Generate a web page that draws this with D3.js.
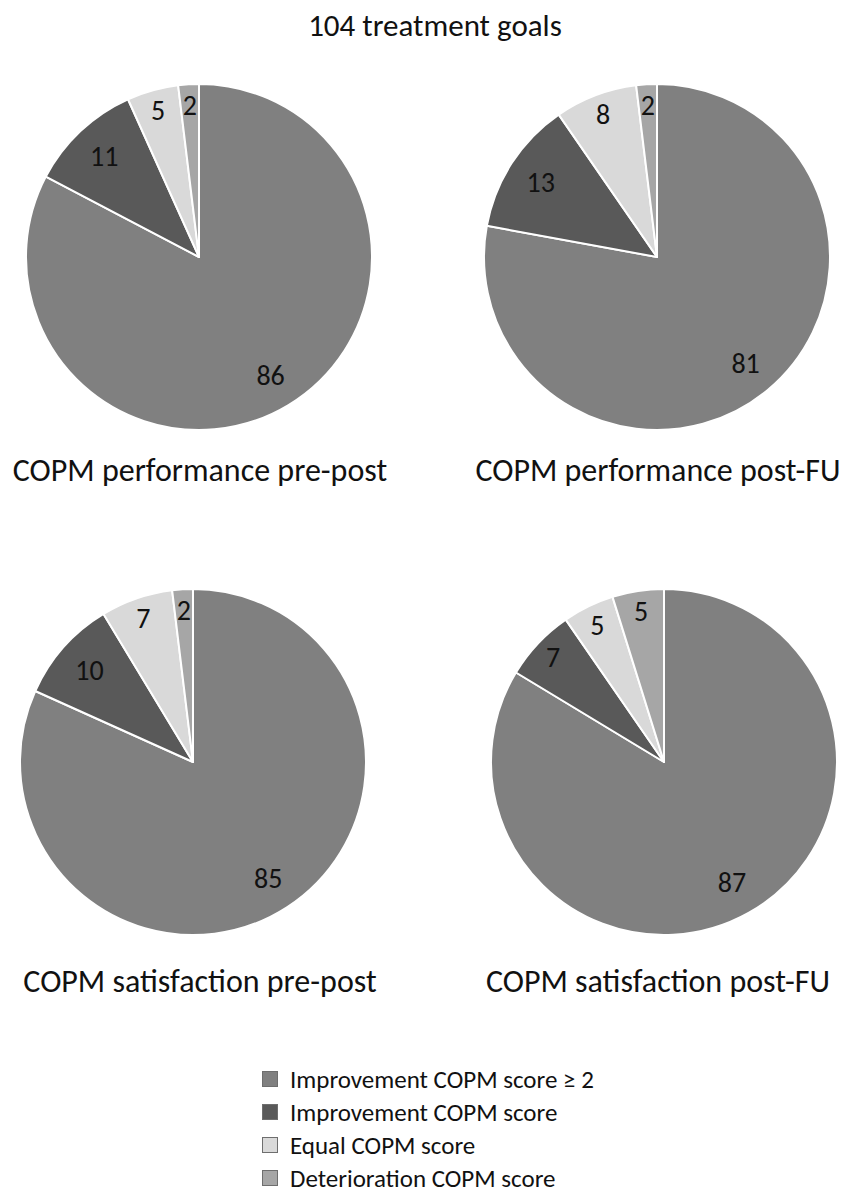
<!DOCTYPE html>
<html>
<head>
<meta charset="utf-8">
<script src="https://cdn.jsdelivr.net/npm/d3@7"></script>
<style>
  body { margin: 0; background: #fff; }
  text { font-family: Carlito, "Open Sans", "Noto Sans", sans-serif; fill: #111; }
</style>
</head>
<body>
<svg id="chart"></svg>
<script>
const width = 843, height = 1199;

// categories, in the order they go round the pie (clockwise from 12 o'clock)
const categories = ['Improvement COPM score \u2265 2', 'Improvement COPM score', 'Equal COPM score', 'Deterioration COPM score'];
const colors = ['#808080', '#595959', '#d9d9d9', '#a6a6a6'];

const chartTitles = ['COPM performance pre-post', 'COPM performance post-FU', 'COPM satisfaction pre-post', 'COPM satisfaction post-FU'];
const perfPrePost = [86, 11, 5, 2];
const perfPostFU = [81, 13, 8, 2];
const satPrePost = [85, 10, 7, 2];
const satPostFU = [87, 7, 5, 5];
const seriesList = [perfPrePost, perfPostFU, satPrePost, satPostFU];

const svg = d3.select("#chart")
    .attr("width", width)
    .attr("height", height);

svg.append("text")
    .attr("x", 435)
    .attr("y", 36)
    .attr("text-anchor", "middle")
    .style("font-size", "31px")
    .text("104 treatment goals");

const radius = 173;
// pie centres, one per chart
const centres = [[199, 257], [657, 257], [193, 762], [664, 762]];
const titleX = [200, 658, 200, 658];
const titleY = [481, 481, 992, 992];

const color = d3.scaleOrdinal().domain(d3.range(categories.length)).range(colors);

const pie = d3.pie().sort(null).value(d => d);
const arc = d3.arc().innerRadius(0).outerRadius(radius);

seriesList.forEach(function (values, i) {
    const g = svg.append("g")
        .attr("transform", `translate(${centres[i][0]}, ${centres[i][1]})`);

    const slices = pie(values);

    g.selectAll("path")
        .data(slices)
        .enter()
        .append("path")
        .attr("d", arc)
        .attr("fill", (d, j) => color(j))
        .attr("stroke", "#fff")
        .attr("stroke-width", 2)
        .attr("stroke-linejoin", "round");

    // narrow slices get their label pushed out towards the rim
    g.selectAll("text.lbl")
        .data(slices)
        .enter()
        .append("text")
        .attr("class", "lbl")
        .attr("transform", function (d) {
            const f = d.value >= 10 ? 0.8 : 0.88;
            const a = d3.arc().innerRadius(radius * f).outerRadius(radius * f);
            return `translate(${a.centroid(d)})`;
        })
        .attr("text-anchor", "middle")
        .attr("dy", "0.35em")
        .style("font-size", "28px")
        .text(d => d.value);

    svg.append("text")
        .attr("x", titleX[i])
        .attr("y", titleY[i])
        .attr("text-anchor", "middle")
        .style("font-size", "32px")
        .text(chartTitles[i]);
});

// legend
const legend = svg.append("g")
    .attr("transform", "translate(262, 1079)");

const legendY = d3.scalePoint().domain(d3.range(categories.length)).range([0, 99]);

legend.selectAll("rect")
    .data(categories)
    .enter()
    .append("rect")
    .attr("x", 0.5)
    .attr("y", (d, i) => legendY(i) - 7.5)
    .attr("width", 15)
    .attr("height", 15)
    .attr("fill", (d, i) => color(i))
    .attr("stroke", "#6e6e6e")
    .attr("stroke-width", 1);

legend.selectAll("text")
    .data(categories)
    .enter()
    .append("text")
    .attr("x", 28)
    .attr("y", (d, i) => legendY(i))
    .attr("dy", "0.35em")
    .style("font-size", "25px")
    .text(d => d);
</script>
</body>
</html>
